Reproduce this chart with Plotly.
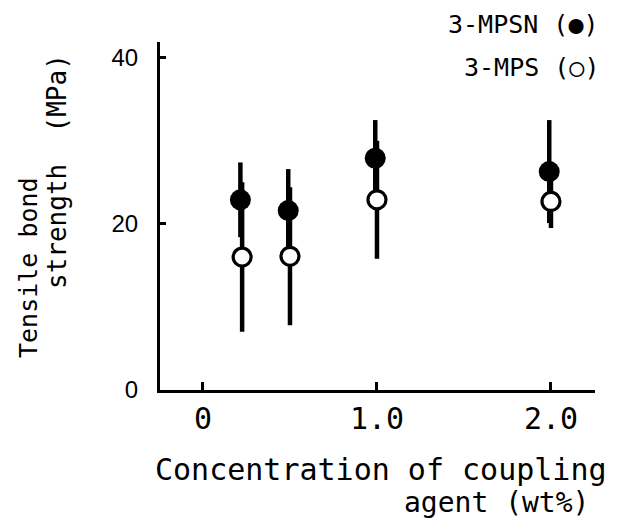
import plotly.graph_objects as go

# ---- data ----
conc_mpsn = [0.215, 0.49, 0.99, 1.99]       # wt% (3-MPSN, filled)
strength_mpsn = [22.9, 21.6, 27.9, 26.3]   # MPa
err_mpsn = [4.5, 5.0, 4.6, 6.2]

conc_mps = [0.225, 0.50, 1.00, 2.00]        # wt% (3-MPS, open)
strength_mps = [16.0, 16.1, 22.9, 22.7]
err_mps = [9.0, 8.3, 7.1, 3.2]

x_tickvals = [0, 1, 2]
x_ticktext = ["0", "1.0", "2.0"]
y_tickvals = [0, 20, 40]
y_ticktext = ["0", "20", "40"]

W, H = 624, 520
L, R, T, B = 160, 29, 42, 130
PW, PH = W - L - R, H - T - B

def px(x):
    return (x - L) / PW

def py(y):
    return (H - B - y) / PH

MONO = "DejaVu Sans Mono"

fig = go.Figure()
fig.add_trace(go.Scatter(
    x=conc_mpsn, y=strength_mpsn, mode="markers",
    marker=dict(color="black", size=21, line=dict(width=0)),
    error_y=dict(type="data", array=err_mpsn, color="black", thickness=4.5, width=0),
    cliponaxis=False, showlegend=False, hoverinfo="skip"))
fig.add_trace(go.Scatter(
    x=conc_mps, y=strength_mps, mode="markers",
    marker=dict(color="white", size=18, line=dict(width=3.2, color="black")),
    error_y=dict(type="data", array=err_mps, color="black", thickness=4.5, width=0),
    cliponaxis=False, showlegend=False, hoverinfo="skip"))

fig.update_layout(
    width=W, height=H,
    margin=dict(l=L, r=R, t=T, b=B, pad=0),
    paper_bgcolor="white", plot_bgcolor="white",
    xaxis=dict(range=[-0.247, 2.253], showgrid=False, zeroline=False,
               showline=True, linecolor="black", linewidth=3,
               ticks="inside", ticklen=8, tickwidth=2.5, tickcolor="black",
               tickvals=x_tickvals, ticktext=x_ticktext,
               tickfont=dict(family=MONO, size=30, color="black")),
    yaxis=dict(range=[0, 41.9], showgrid=False, zeroline=False,
               showline=True, linecolor="black", linewidth=3,
               ticks="inside", ticklen=6, tickwidth=2.5, tickcolor="black",
               tickvals=y_tickvals, ticktext=y_ticktext, ticklabelstandoff=14,
               tickfont=dict(family="Liberation Sans", size=24, color="black")),
)

ann = []
# legend-like labels
ann.append(dict(text="3-MPSN (●)", x=px(601), y=py(25), xref="paper", yref="paper",
                xanchor="right", yanchor="middle", showarrow=False,
                font=dict(family=MONO, size=25, color="black")))
ann.append(dict(text="3-MPS (○)", x=px(601), y=py(68), xref="paper", yref="paper",
                xanchor="right", yanchor="middle", showarrow=False,
                font=dict(family=MONO, size=25, color="black")))
# x-axis title (two lines)
ann.append(dict(text="Concentration of coupling", x=px(381), y=py(469), xref="paper", yref="paper",
                xanchor="center", yanchor="middle", showarrow=False,
                font=dict(family=MONO, size=30, color="black")))
ann.append(dict(text="agent (wt%)", x=px(496), y=py(502), xref="paper", yref="paper",
                xanchor="center", yanchor="middle", showarrow=False,
                font=dict(family=MONO, size=28, color="black")))
# y-axis title (two lines)
ann.append(dict(text="Tensile bond", x=px(28), y=py(268), xref="paper", yref="paper",
                xanchor="center", yanchor="middle", textangle=-90, showarrow=False,
                font=dict(family=MONO, size=25, color="black")))
ann.append(dict(text="strength  (MPa)", x=px(57), y=py(172), xref="paper", yref="paper",
                xanchor="center", yanchor="middle", textangle=-90, showarrow=False,
                font=dict(family=MONO, size=26, color="black")))
fig.update_layout(annotations=ann)

fig.write_html("out.html", config={"displayModeBar": False},
               post_script="document.body.style.margin='0px';document.body.style.overflow='hidden';")
